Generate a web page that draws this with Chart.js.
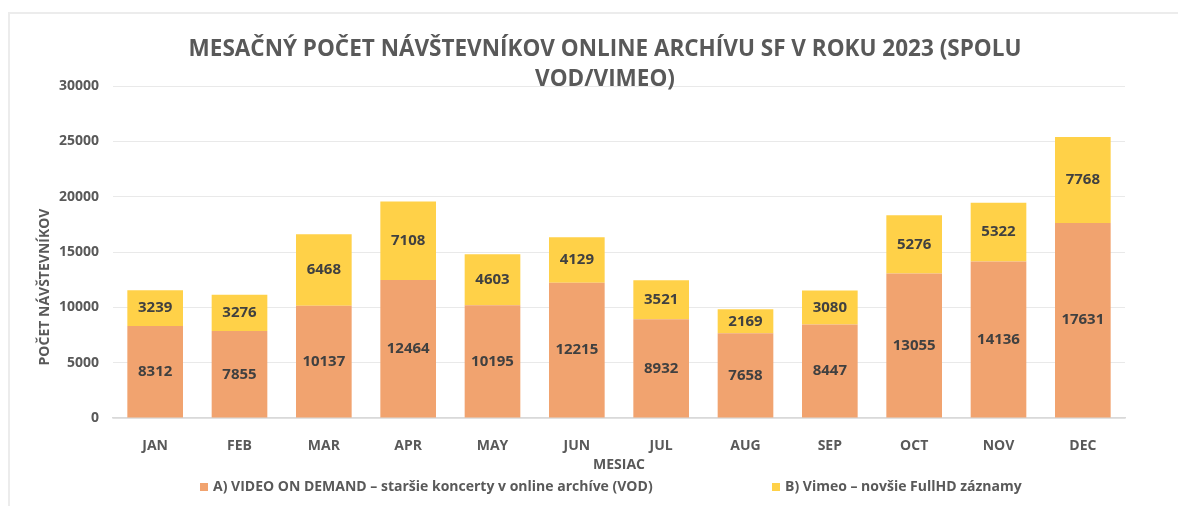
<!DOCTYPE html>
<html>
<head>
<meta charset="utf-8">
<script src="https://cdn.jsdelivr.net/npm/chart.js@4.4.1/dist/chart.umd.min.js"></script>
<style>
  body { margin: 0; background: #fff; }
  #frame { position: absolute; left: 8px; top: 12px; width: 1200px; height: 520px;
           border-left: 2px solid #ececec; border-top: 2px solid #ececec; }
  #wrap { position: absolute; left: 0; top: 0; width: 1178px; height: 506px; }
</style>
</head>
<body>
<div id="frame"></div>
<div id="wrap"><canvas id="chart" width="1178" height="506"></canvas></div>
<script>
// data
var months = ['JAN','FEB','MAR','APR','MAY','JUN','JUL','AUG','SEP','OCT','NOV','DEC'];
var vod = [8312, 7855, 10137, 12464, 10195, 12215, 8932, 7658, 8447, 13055, 14136, 17631];
var vimeo = [3239, 3276, 6468, 7108, 4603, 4129, 3521, 2169, 3080, 5276, 5322, 7768];
var seriesNames = ['A) VIDEO ON DEMAND \u2013 star\u0161ie koncerty v online arch\u00edve (VOD)',
                   'B) Vimeo \u2013 nov\u0161ie FullHD z\u00e1znamy'];
var titleLines = ['MESA\u010cN\u00dd PO\u010cET N\u00c1V\u0160TEVN\u00cdKOV ONLINE ARCH\u00cdVU SF V ROKU 2023 (SPOLU', 'VOD/VIMEO)'];
var yTitle = 'PO\u010cET N\u00c1V\u0160TEVN\u00cdKOV';
var xTitle = 'MESIAC';

var orange = 'rgb(241,163,111)';
var yellow = 'rgb(255,209,72)';
var FONT = '"Open Sans", "DejaVu Sans", sans-serif';

// labels inside bars + titles + legend, drawn on the canvas
var extras = {
  id: 'extras',
  afterDatasetsDraw: function(chart) {
    var ctx = chart.ctx;
    ctx.save();
    ctx.fillStyle = '#404040';
    ctx.font = 'bold 15px ' + FONT;
    ctx.textAlign = 'center';
    ctx.textBaseline = 'middle';
    chart.data.datasets.forEach(function(ds, i) {
      chart.getDatasetMeta(i).data.forEach(function(bar, j) {
        ctx.fillText(ds.data[j], bar.x, (bar.y + bar.base) / 2);
      });
    });
    ctx.restore();
  },
  afterDraw: function(chart) {
    var ctx = chart.ctx;
    var area = chart.chartArea;
    ctx.save();
    ctx.fillStyle = '#595959';
    ctx.textAlign = 'center';
    ctx.textBaseline = 'middle';
    ctx.font = 'bold 22.5px ' + FONT;
    ctx.fillText(titleLines[0], 605, 50);
    ctx.fillText(titleLines[1], 605, 80);

    ctx.font = 'bold 14px ' + FONT;
    ctx.fillText(xTitle, (area.left + area.right) / 2, 465);

    ctx.save();
    ctx.translate(45, 287);
    ctx.rotate(-Math.PI / 2);
    ctx.fillText(yTitle, 0, 0);
    ctx.restore();

    // legend
    ctx.textAlign = 'left';
    var lx = [200, 772];
    var cols = [orange, yellow];
    for (var i = 0; i < 2; i++) {
      ctx.fillStyle = cols[i];
      ctx.fillRect(lx[i], 483, 8, 8);
      ctx.fillStyle = '#595959';
      ctx.fillText(seriesNames[i], lx[i] + 13, 487);
    }
    ctx.restore();
  }
};

new Chart(document.getElementById('chart'), {
  type: 'bar',
  data: {
    labels: months,
    datasets: [
      { label: seriesNames[0], data: vod, backgroundColor: orange },
      { label: seriesNames[1], data: vimeo, backgroundColor: yellow }
    ]
  },
  options: {
    responsive: false,
    animation: false,
    layout: { padding: { top: 86, right: 53, left: 0, bottom: 0 } },
    plugins: {
      legend: { display: false },
      title: { display: false },
      tooltip: { enabled: false }
    },
    datasets: { bar: { barPercentage: 0.66, categoryPercentage: 1 } },
    scales: {
      x: {
        stacked: true,
        grid: { display: false },
        border: { color: '#d9d9d9', width: 1.5 },
        ticks: { color: '#595959', font: { family: FONT, size: 14, weight: 'bold' }, padding: 12 },
        afterFit: function(s) { s.height = 88; }
      },
      y: {
        stacked: true,
        min: 0, max: 30000,
        ticks: {
          stepSize: 5000, color: '#595959', padding: 14,
          font: { family: FONT, size: 14, weight: 'bold' },
          callback: function(v) { return String(v); }
        },
        grid: { color: '#e9e9e9', drawTicks: false },
        border: { display: false },
        afterFit: function(s) { s.width = 113; }
      }
    }
  },
  plugins: [extras]
});
</script>
</body>
</html>
